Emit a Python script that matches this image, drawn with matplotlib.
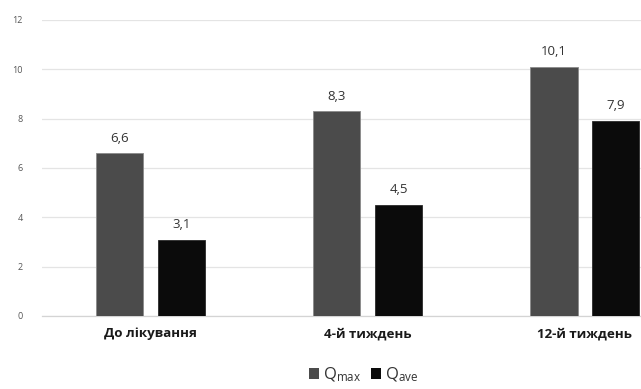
import numpy as np
import matplotlib
matplotlib.use("Agg")
import matplotlib.pyplot as plt
from matplotlib.patches import Patch

plt.rcParams["font.family"] = ["Open Sans", "DejaVu Sans"]

categories = ["До лікування", "4-й тиждень", "12-й тиждень"]
q_max = [6.6, 8.3, 10.1]
q_ave = [3.1, 4.5, 7.9]
series_names = [r"Q$\mathregular{_{max}}$", r"Q$\mathregular{_{ave}}$"]
yticks = [0, 2, 4, 6, 8, 10, 12]

GRAY = "#4b4b4b"
BLACK = "#0b0b0b"

fig = plt.figure(figsize=(6.41, 3.89), dpi=100)
ax = fig.add_axes([0.0655, 0.1877, 0.9345, 0.761])

x = np.arange(len(categories))
w = 0.22
off = 0.1425
b1 = ax.bar(x - off, q_max, w, color=GRAY, edgecolor="#8a8a8a", linewidth=0.6, zorder=3)
b2 = ax.bar(x + off, q_ave, w, color=BLACK, edgecolor="#2a2a2a", linewidth=0.6, zorder=3)

for bars, vals in ((b1, q_max), (b2, q_ave)):
    for r, v in zip(bars, vals):
        ax.text(r.get_x() + r.get_width() / 2, v + 0.35, f"{v:.1f}".replace(".", ","),
                ha="center", va="bottom", fontsize=9.5, color="#333333")

ax.set_xlim(-0.5, 2.26)
ax.set_ylim(0, 12)
ax.set_yticks(yticks)
ax.set_yticklabels([str(t) for t in yticks], fontsize=6.5, color="#555555")
ax.grid(axis="y", color="#e4e4e4", linewidth=0.9, zorder=0)
ax.set_xticks(x)
ax.set_xticklabels(categories, fontsize=9.6, fontweight="bold", color="#1a1a1a")
ax.tick_params(axis="both", length=0)
ax.tick_params(axis="x", pad=8)
ax.tick_params(axis="y", pad=14)
for s in ("top", "right", "left"):
    ax.spines[s].set_visible(False)
ax.spines["bottom"].set_color("#d4d4d4")
ax.spines["bottom"].set_linewidth(0.9)

handles = [Patch(facecolor=GRAY), Patch(facecolor=BLACK)]
fig.legend(handles, series_names, loc="center", bbox_to_anchor=(0.567, 0.036), ncol=2,
           frameon=False, fontsize=12, handlelength=0.6, handleheight=0.6,
           handletextpad=0.25, columnspacing=0.6, labelcolor="#333333")

fig.savefig("out.png", dpi=100)
